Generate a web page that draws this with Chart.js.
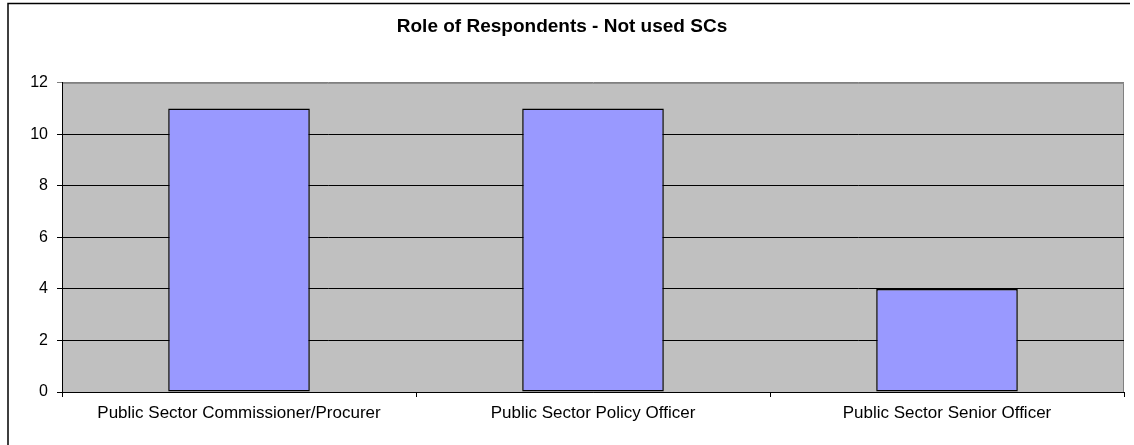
<!DOCTYPE html>
<html>
<head>
<meta charset="utf-8">
<script src="https://cdn.jsdelivr.net/npm/chart.js@4"></script>
<style>
  html, body { margin: 0; padding: 0; background: #fff; }
  #wrap { width: 1134px; height: 445px; }
</style>
</head>
<body>
<div id="wrap"><canvas id="grafico" width="1134" height="445"></canvas></div>
<script>
// data
var roles = ['Public Sector Commissioner/Procurer', 'Public Sector Policy Officer', 'Public Sector Senior Officer'];
var counts = [11, 11, 4];
var yMax = 12;
var yStep = 2;

// frame + grey plot area, drawn under the bars
var fundo = {
  id: 'fundo',
  beforeDraw: function (chart) {
    var c = chart.ctx, a = chart.chartArea;
    c.save();
    c.fillStyle = '#fff';
    c.fillRect(0, 0, chart.width, chart.height);
    c.strokeStyle = '#000';
    c.lineWidth = 1.5;
    c.beginPath();
    c.moveTo(8, 445);
    c.lineTo(8, 3.5);
    c.lineTo(1130, 3.5);
    c.stroke();
    c.fillStyle = '#C0C0C0';
    c.fillRect(a.left, a.top, a.right - a.left, a.bottom - a.top);
    c.strokeStyle = '#808080';
    c.lineWidth = 1;
    c.beginPath();
    c.moveTo(a.left, a.top + 0.5);
    c.lineTo(a.right - 0.5, a.top + 0.5);
    c.lineTo(a.right - 0.5, a.bottom);
    c.stroke();
    c.restore();
  }
};

var gTarget = document.getElementById('grafico');
var barGraph = new Chart(gTarget, {
  type: 'bar',
  data: {
    labels: roles,
    datasets: [{
      label: 'Not used SCs',
      data: counts,
      backgroundColor: '#9999FF',
      borderColor: '#000000',
      borderWidth: 1.5,
      borderSkipped: false,
      barPercentage: 0.4,
      categoryPercentage: 1.0
    }]
  },
  options: {
    responsive: false,
    animation: false,
    layout: { padding: { left: 0, right: 10, top: 0, bottom: 0 } },
    plugins: {
      legend: { display: false },
      tooltip: { enabled: false },
      title: {
        display: true,
        text: 'Role of Respondents - Not used SCs',
        color: '#000',
        font: { family: 'Arial, "Liberation Sans", sans-serif', size: 19, weight: 'bold' },
        padding: { top: 15, bottom: 45 }
      }
    },
    scales: {
      x: {
        grid: { display: true, drawOnChartArea: false, drawTicks: true, tickLength: 5, color: '#000', offset: true },
        border: { display: true, color: '#000', width: 1 },
        ticks: {
          color: '#000',
          padding: 6,
          maxRotation: 0,
          font: { family: 'Arial, "Liberation Sans", sans-serif', size: 17 }
        },
        afterFit: function (scale) { scale.height = 53; }
      },
      y: {
        min: 0,
        max: yMax,
        grid: {
          color: function (ctx) { return ctx.tick && ctx.tick.value === yMax ? '#808080' : '#000'; },
          tickLength: 5,
          drawTicks: true
        },
        border: { display: true, color: '#000', width: 1 },
        ticks: {
          stepSize: yStep,
          color: '#000',
          padding: 9,
          font: { family: 'Arial, "Liberation Sans", sans-serif', size: 16 }
        },
        afterFit: function (scale) { scale.width = 62; }
      }
    }
  },
  plugins: [fundo]
});
</script>
</body>
</html>
